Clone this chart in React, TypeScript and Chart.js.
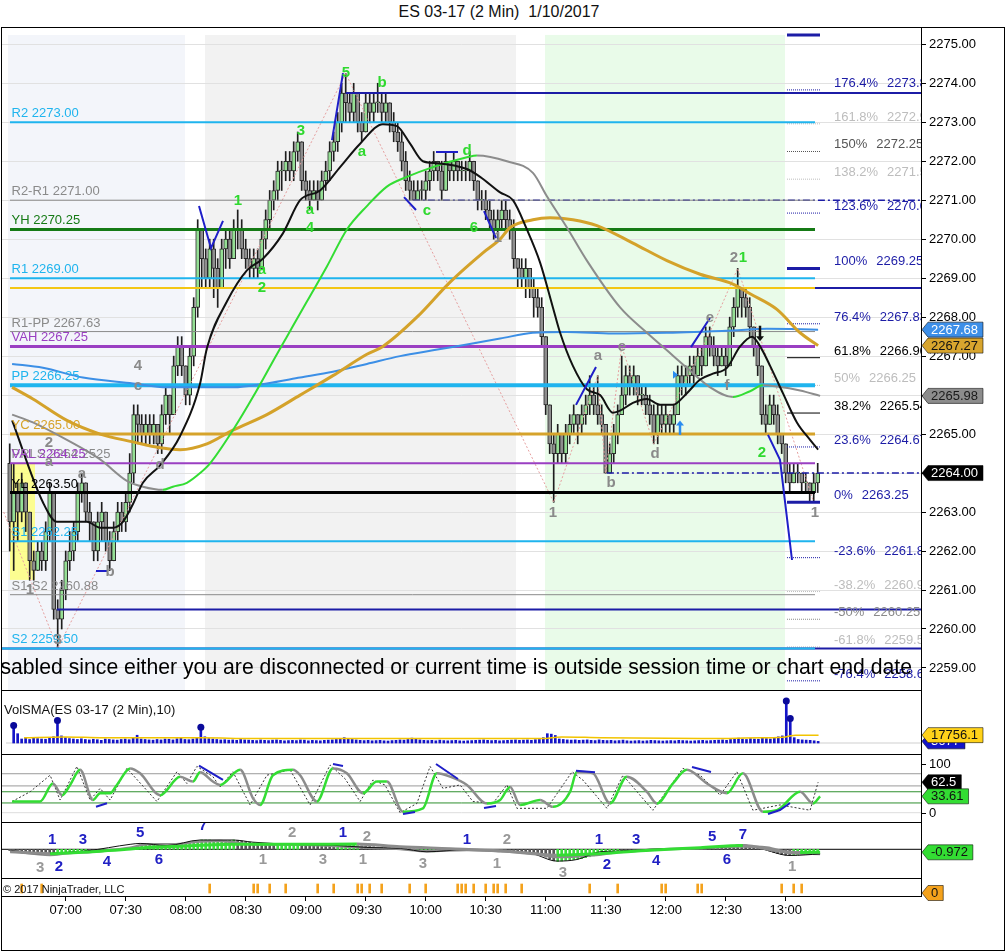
import React, { useEffect, useRef } from "react";
import { Chart, registerables } from "chart.js";

Chart.register(...registerables);

const FONT = "'Liberation Sans', Arial, Helvetica, sans-serif";

/* ---------------- time axis (minutes after midnight) ---------------- */
const firstBarMinute = 392; // 06:32
const barMinutes = 2;
const axisStartMinute = 388.15;
const axisEndMinute = 847.65;
const timeTickMinutes = [420, 450, 480, 510, 540, 570, 600, 630, 660, 690, 720, 750, 780];

/* ---------------- candles ---------------- */
const firstOpen = 2264.25;
const closes = [
  2262.75, 2263.5, 2263.0, 2263.75, 2263.0, 2261.75, 2261.5, 2262.0, 2261.75, 2262.5,
  2263.5, 2260.5, 2260.25, 2261.0, 2261.75, 2262.0, 2262.5, 2263.5, 2263.75, 2263.0,
  2262.75, 2262.0, 2262.75, 2263.0, 2262.25, 2261.75, 2262.5, 2263.0, 2262.75, 2263.25,
  2264.0, 2265.5, 2265.25, 2265.0, 2265.25, 2265.0, 2265.25, 2264.75, 2265.5, 2266.0,
  2265.5, 2266.75, 2267.25, 2266.75, 2266.0, 2267.0, 2268.25, 2270.25, 2269.5, 2269.0,
  2269.75, 2269.25, 2268.75, 2269.75, 2270.0, 2269.5, 2270.25, 2270.25, 2269.75, 2269.5,
  2269.25, 2269.5, 2269.25, 2270.0, 2270.5, 2271.0, 2271.25, 2271.75, 2271.75, 2272.0,
  2271.75, 2272.25, 2272.5, 2271.5, 2271.25, 2271.0, 2271.25, 2271.0, 2271.5, 2271.75,
  2272.25, 2272.5, 2273.0, 2273.75, 2273.5, 2273.25, 2273.75, 2273.0, 2272.75, 2273.5,
  2273.25, 2273.5, 2273.5, 2273.25, 2273.5, 2273.0, 2272.75, 2272.5, 2272.0, 2271.5,
  2271.25, 2271.0, 2271.25, 2271.25, 2271.5, 2271.75, 2272.0, 2271.75, 2271.25, 2272.0,
  2271.75, 2272.0, 2271.75, 2271.75, 2271.75, 2272.0, 2271.5, 2271.0, 2271.0, 2270.75,
  2270.5, 2270.25, 2270.5, 2270.75, 2270.5, 2270.25, 2269.5, 2269.25, 2269.0, 2269.25,
  2268.75, 2268.5, 2268.25, 2267.5, 2265.75, 2264.75, 2264.5, 2265.0, 2264.5, 2265.0,
  2265.25, 2265.5, 2265.25, 2265.5, 2265.75, 2266.0, 2265.75, 2265.5, 2265.25, 2264.0,
  2264.5, 2265.0, 2265.5, 2266.0, 2266.5, 2266.25, 2266.5, 2266.0, 2266.0, 2265.75,
  2265.5, 2265.0, 2265.5, 2265.25, 2265.5, 2265.25, 2265.5, 2266.5, 2266.25, 2266.5,
  2266.75, 2266.5, 2267.0, 2266.75, 2267.5, 2267.25, 2267.0, 2266.75, 2267.0, 2266.75,
  2267.75, 2268.25, 2268.75, 2268.5, 2268.25, 2267.75, 2267.25, 2266.75, 2265.5, 2265.25,
  2265.75, 2265.5, 2265.0, 2264.75, 2264.0, 2263.75, 2264.0, 2264.0, 2263.75, 2263.75,
  2263.5, 2263.75, 2264.0,
];
const highs = [
  2264.75, 2264.25, 2263.75, 2264.0, 2263.75, 2263.0, 2262.0, 2262.25, 2262.25, 2262.75,
  2263.75, 2263.5, 2260.75, 2261.25, 2262.0, 2262.5, 2262.75, 2263.75, 2264.0, 2263.75,
  2263.25, 2262.75, 2263.0, 2263.25, 2263.0, 2262.5, 2262.75, 2263.25, 2263.25, 2263.5,
  2264.5, 2265.75, 2265.75, 2265.5, 2265.5, 2265.5, 2265.5, 2265.25, 2265.75, 2266.25,
  2266.0, 2267.0, 2267.5, 2267.5, 2266.75, 2267.25, 2268.5, 2270.5, 2270.25, 2269.75,
  2270.0, 2270.0, 2269.5, 2270.0, 2270.25, 2270.25, 2270.5, 2270.75, 2270.5, 2270.0,
  2269.75, 2269.75, 2269.75, 2270.25, 2270.75, 2271.25, 2271.5, 2272.0, 2272.0, 2272.25,
  2272.25, 2272.5, 2272.75, 2272.5, 2271.75, 2271.5, 2271.5, 2271.5, 2271.75, 2272.0,
  2272.5, 2272.75, 2273.25, 2274.0, 2274.25, 2273.75, 2274.0, 2273.75, 2273.25, 2273.75,
  2273.75, 2273.75, 2274.0, 2273.75, 2273.75, 2273.5, 2273.25, 2273.0, 2272.75, 2272.25,
  2271.75, 2271.5, 2271.5, 2271.5, 2271.75, 2272.0, 2272.25, 2272.0, 2272.0, 2272.25,
  2272.0, 2272.25, 2272.0, 2272.0, 2272.0, 2272.25, 2272.0, 2271.5, 2271.25, 2271.25,
  2271.0, 2270.75, 2270.75, 2271.0, 2271.0, 2270.75, 2270.5, 2269.5, 2269.5, 2269.5,
  2269.25, 2269.0, 2268.75, 2268.5, 2267.5, 2265.75, 2265.0, 2265.25, 2265.0, 2265.25,
  2265.5, 2265.75, 2265.5, 2265.75, 2266.0, 2266.5, 2266.25, 2266.5, 2265.75, 2265.25,
  2264.75, 2265.25, 2265.75, 2267.0, 2266.75, 2266.75, 2266.75, 2266.5, 2266.25, 2266.25,
  2266.0, 2265.75, 2265.75, 2265.75, 2265.75, 2265.5, 2265.75, 2266.75, 2266.75, 2266.75,
  2267.0, 2267.0, 2267.25, 2267.25, 2267.75, 2267.75, 2267.5, 2267.25, 2267.25, 2267.25,
  2268.0, 2268.5, 2269.25, 2268.75, 2268.75, 2268.5, 2267.75, 2267.25, 2266.75, 2265.75,
  2266.0, 2266.0, 2265.75, 2265.0, 2264.75, 2264.25, 2264.25, 2264.25, 2264.0, 2264.0,
  2263.75, 2264.0, 2264.25,
];
const lows = [
  2262.0, 2261.5, 2262.25, 2262.75, 2262.5, 2261.25, 2261.25, 2261.5, 2261.5, 2261.5,
  2262.25, 2260.25, 2259.5, 2260.0, 2260.75, 2261.5, 2261.75, 2262.25, 2263.25, 2262.75,
  2262.25, 2261.75, 2261.75, 2262.25, 2262.0, 2261.5, 2261.75, 2262.25, 2262.5, 2262.5,
  2263.0, 2263.75, 2264.75, 2264.75, 2264.75, 2264.75, 2264.75, 2264.5, 2264.5, 2265.25,
  2265.0, 2265.5, 2266.5, 2266.5, 2265.75, 2265.75, 2266.75, 2268.0, 2268.75, 2268.75,
  2268.75, 2268.5, 2268.25, 2268.75, 2269.25, 2269.25, 2269.5, 2269.75, 2269.5, 2269.25,
  2269.0, 2269.0, 2269.0, 2269.25, 2269.75, 2270.25, 2270.75, 2271.0, 2271.25, 2271.5,
  2271.5, 2271.5, 2272.0, 2271.25, 2271.0, 2270.75, 2271.0, 2270.75, 2271.0, 2271.25,
  2271.5, 2272.0, 2272.25, 2272.75, 2273.0, 2273.0, 2273.0, 2272.75, 2272.5, 2272.75,
  2273.0, 2273.0, 2273.25, 2273.0, 2273.0, 2272.75, 2272.5, 2272.25, 2271.75, 2271.25,
  2271.0, 2271.0, 2271.0, 2271.0, 2271.0, 2271.25, 2271.5, 2271.5, 2271.0, 2271.25,
  2271.5, 2271.5, 2271.5, 2271.5, 2271.5, 2271.5, 2271.25, 2270.75, 2270.75, 2270.5,
  2270.25, 2270.0, 2270.0, 2270.25, 2270.25, 2270.0, 2269.25, 2268.75, 2268.75, 2268.5,
  2268.5, 2268.0, 2268.0, 2267.25, 2265.5, 2264.5, 2263.25, 2264.25, 2264.25, 2264.25,
  2264.75, 2265.0, 2264.75, 2265.0, 2265.25, 2265.5, 2265.5, 2265.25, 2265.0, 2264.0,
  2264.0, 2264.25, 2264.75, 2265.5, 2265.75, 2266.0, 2266.0, 2265.75, 2265.75, 2265.5,
  2265.25, 2264.75, 2264.75, 2265.0, 2265.0, 2265.0, 2265.0, 2265.5, 2266.0, 2266.0,
  2266.25, 2266.25, 2266.5, 2266.5, 2266.75, 2267.0, 2266.75, 2266.5, 2266.75, 2266.5,
  2266.75, 2267.5, 2268.0, 2268.0, 2268.0, 2267.5, 2267.0, 2266.5, 2265.25, 2265.0,
  2265.25, 2265.25, 2264.75, 2264.5, 2263.75, 2263.5, 2263.75, 2263.75, 2263.5, 2263.5,
  2263.25, 2263.25, 2263.5,
];

/* ---------------- moving averages (read at sample times) ---------------- */
const fastMaTimes = [393.2, 408.6, 415.6, 425.6, 430.6, 437.2, 443.6, 448.6, 453.6, 458.6, 467.2, 477.2, 487.2, 490.6, 500.6, 510.6, 518.6, 528.6, 537.2, 547.2, 557.2, 567.2, 578.6, 585.6, 592.2, 598.6, 605.6, 620.6, 627.2, 637.2, 643.6, 650.6, 657.2, 663.6, 667.2, 673.6, 680.6, 687.2, 693.6, 697.2, 703.6, 710.6, 717.2, 723.6, 730.6, 737.2, 743.6, 750.6, 757.2, 763.2, 767.2, 772.2, 778.6, 785.6, 792.2, 796.2];
const fastMaValues = [2265.35, 2263.25, 2262.75, 2262.75, 2262.75, 2262.6, 2262.6, 2262.75, 2263.2, 2263.75, 2264.2, 2264.95, 2266.3, 2267.2, 2268.4, 2269.2, 2269.5, 2270.15, 2271.0, 2271.25, 2271.85, 2272.45, 2272.95, 2272.9, 2272.45, 2272.0, 2271.95, 2271.8, 2271.6, 2271.2, 2271.0, 2270.25, 2269.4, 2268.25, 2267.6, 2266.75, 2266.15, 2266.0, 2265.55, 2265.6, 2265.8, 2265.9, 2265.75, 2265.75, 2266.05, 2266.4, 2266.55, 2266.7, 2267.25, 2267.5, 2267.25, 2266.75, 2266.05, 2265.3, 2264.85, 2264.6];
const swingMaTimes = [393.2, 403.6, 420.6, 437.2, 450.6, 458.6, 468.6, 473.6, 480.6, 487.2, 492.2, 503.6, 513.6, 525.6, 530.6, 540.6, 550.6, 560.6, 570.6, 580.6, 590.6, 603.6, 620.6, 625.6, 640.6, 653.6, 660.6, 670.6, 680.6, 697.2, 710.6, 720.6, 730.6, 742.2, 753.6, 762.2, 768.6, 775.6, 787.2, 797.2];
const swingMaValues = [2265.5, 2265.3, 2264.85, 2264.35, 2263.8, 2263.65, 2263.57, 2263.65, 2263.75, 2264.0, 2264.25, 2265.1, 2265.95, 2267.05, 2267.5, 2268.4, 2269.3, 2270.25, 2270.85, 2271.35, 2271.6, 2271.85, 2272.1, 2272.15, 2272.0, 2271.7, 2271.1, 2270.3, 2269.45, 2268.25, 2267.6, 2267.15, 2266.7, 2266.2, 2265.95, 2266.1, 2266.25, 2266.22, 2266.12, 2265.98];
const goldMaTimes = [393.2, 403.6, 420.6, 437.2, 453.6, 467.2, 477.2, 490.6, 503.6, 520.6, 537.2, 553.6, 570.6, 578.6, 595.6, 612.2, 628.6, 637.2, 642.2, 653.6, 662.2, 673.6, 685.6, 703.6, 720.6, 737.2, 753.6, 762.2, 775.6, 787.2, 796.2];
const goldMaValues = [2266.2, 2265.9, 2265.35, 2265.0, 2264.8, 2264.65, 2264.6, 2264.75, 2265.1, 2265.5, 2266.0, 2266.5, 2267.05, 2267.25, 2268.0, 2268.9, 2269.65, 2270.0, 2270.3, 2270.5, 2270.55, 2270.5, 2270.35, 2269.9, 2269.45, 2269.1, 2268.85, 2268.6, 2268.2, 2267.6, 2267.27];
const vwapTimes = [393.2, 408.6, 428.6, 453.6, 470.6, 487.2, 503.6, 520.6, 537.2, 553.6, 570.6, 587.2, 603.6, 620.6, 637.2, 653.6, 670.6, 693.6, 720.6, 753.6, 770.6, 796.2];
const vwapValues = [2266.8, 2266.7, 2266.45, 2266.3, 2266.2, 2266.2, 2266.2, 2266.3, 2266.45, 2266.6, 2266.8, 2267.0, 2267.15, 2267.3, 2267.45, 2267.6, 2267.62, 2267.58, 2267.6, 2267.66, 2267.7, 2267.68];
const zigzagTimes = [389, 416, 560, 664, 686, 690, 698, 714, 742, 756, 794];
const zigzagValues = [2263.0, 2259.5, 2274.25, 2263.25, 2266.5, 2264.0, 2267.25, 2264.75, 2267.6, 2269.25, 2263.25];

/* ---------------- pivot levels ---------------- */
const pivotNames = ["R2", "R2-R1", "YH", "R1", "", "R1-PP", "VAH", "PP", "YC", "VAL", "YL", "S1", "S1-S2", "S2"];
const pivotValues = [2273.0, 2271.0, 2270.25, 2269.0, 2268.75, 2267.63, 2267.25, 2266.25, 2265.0, 2264.25, 2263.5, 2262.25, 2260.88, 2259.5];
const pivotColors = ["#1fb4ee", "#8a8a8a", "#157a15", "#1fb4ee", "#f3c614", "#8a8a8a", "#9a3fc2", "#1fb4ee", "#d6a32b", "#9a3fc2", "#000000", "#1fb4ee", "#8a8a8a", "#1fb4ee"];
const pivotWidths = [2, 1, 3, 2, 2, 1, 3, 4, 3, 2, 3, 2, 1, 2];
const pivotStart = 392.15;
const pivotEnd = 794.65;

/* ---------------- fibonacci levels ---------------- */
const fibPercents = ["176.4%", "161.8%", "150%", "138.2%", "123.6%", "100%", "76.4%", "61.8%", "50%", "38.2%", "23.6%", "0%", "-23.6%", "-38.2%", "-50%", "-61.8%", "-76.4%"];
const fibValues = [2273.83, 2272.96, 2272.25, 2271.54, 2270.67, 2269.25, 2267.83, 2266.96, 2266.25, 2265.54, 2264.67, 2263.25, 2261.83, 2260.96, 2260.25, 2259.54, 2258.67];
const fibColors = ["#1c1ca6", "#bdbdbd", "#555555", "#bdbdbd", "#1c1ca6", "#1c1ca6", "#1c1ca6", "#000000", "#bdbdbd", "#000000", "#1c1ca6", "#1c1ca6", "#1c1ca6", "#bdbdbd", "#8a8a8a", "#bdbdbd", "#1c1ca6"];
const fibStart = 780.65;
const fibEnd = 797.15;

/* ---------------- wave labels ---------------- */
const waveTexts = ["5", "b", "3", "a", "1", "a", "4", "a", "2", "d", "c", "6", "1", "2",
  "2", "4", "c", "2", "a", "a", "d", "b", "1", "3", "1", "a", "e", "f", "d", "b", "1", "1", "e"];
const waveTimes = [560.15, 578.15, 537.65, 568.15, 506.15, 542.15, 542.15, 518.15, 518.15, 620.65, 600.65, 624.15, 758.65, 768.15,
  754.15, 456.15, 456.15, 411.65, 411.65, 428.15, 467.15, 442.15, 402.15, 416.15, 636.15, 686.15, 698.15, 750.65, 714.65, 692.65, 663.65, 794.65, 742.15];
const wavePrices = [2274.26, 2274.0, 2272.77, 2272.24, 2270.98, 2270.75, 2270.29, 2269.21, 2268.75, 2272.26, 2270.72, 2270.29, 2269.51, 2264.51,
  2269.51, 2266.75, 2266.23, 2264.77, 2264.28, 2263.97, 2264.2, 2261.46, 2261.0, 2259.72, 2270.03, 2267.0, 2267.23, 2266.25, 2264.49, 2263.75, 2262.98, 2262.98, 2267.98];
const waveIsGreen = [1, 1, 1, 1, 1, 1, 1, 1, 1, 1, 1, 1, 1, 1, 0, 0, 0, 0, 0, 0, 0, 0, 0, 0, 0, 0, 0, 0, 0, 0, 0, 0, 0];

/* ---------------- trend segments (navy) ---------------- */
const trendSegments = [
  [[486.65, 2270.85], [492.65, 2269.77], [498.65, 2270.47]],
  [[553.15, 2272.54], [558.65, 2274.26]],
  [[605.15, 2272.24], [616.15, 2272.24]],
  [[589.15, 2271.08], [595.15, 2270.75]],
  [[629.15, 2270.72], [635.15, 2270.03]],
  [[435.15, 2261.49], [440.65, 2261.49]],
  [[675.15, 2265.75], [685.15, 2266.72]],
  [[732.65, 2267.23], [742.15, 2267.98]],
  [[771.15, 2264.98], [777.15, 2264.34], [783.15, 2261.77]],
];

/* ---------------- volume ---------------- */
const volumes = [
  39500, 21000, 9000, 11000, 8000, 12000, 10000, 9000, 8500, 11000,
  14000, 51000, 16000, 12000, 10000, 9000, 8000, 9500, 8000, 7000,
  8500, 7500, 6000, 9000, 8000, 7000, 6500, 8000, 9000, 7500,
  12000, 17500, 9000, 8000, 7000, 6500, 8000, 7000, 9000, 8500,
  7000, 9500, 11000, 8000, 7500, 9000, 12000, 35500, 14000, 10000,
  9000, 8000, 7000, 7500, 6500, 7000, 6000, 8000, 7000, 6500,
  6000, 5500, 7000, 6000, 5500, 6500, 7000, 6000, 5000, 5500,
  6000, 5500, 7000, 6500, 5000, 6000, 5500, 5000, 6000, 6500,
  7000, 8000, 9000, 12000, 10000, 8000, 7000, 6000, 5500, 6000,
  5000, 5500, 6000, 5000, 4500, 5500, 6000, 7000, 6500, 8000,
  11000, 9000, 7000, 6000, 5500, 6000, 5000, 6500, 5500, 5000,
  5500, 6000, 5000, 4500, 5000, 5500, 6000, 6500, 7000, 6000,
  5500, 6000, 5000, 5500, 6000, 6500, 7000, 6000, 6500, 7000,
  6000, 7500, 8000, 12000, 21000, 20000, 17000, 9000, 8000, 7000,
  6500, 7000, 6000, 6500, 7000, 6000, 5500, 7000, 6000, 5500,
  6000, 5000, 5500, 6500, 5000, 4500, 5000, 5500, 4500, 5000,
  6000, 5500, 5000, 4500, 5000, 5500, 5000, 6000, 5500, 5000,
  4500, 5000, 5500, 6000, 5000, 5500, 6000, 6500, 7000, 6000,
  8000, 9500, 11000, 9000, 8000, 10000, 9000, 8500, 12000, 10000,
  9000, 11000, 14000, 16000, 94700, 55200, 12000, 8000, 7000, 6500,
  6000, 5000, 3677,
];
const volumeSpikeBars = [0, 11, 47, 194, 195];
const volSmaTimes = [397.2, 417.2, 437.2, 462.2, 487.2, 512.2, 562.2, 612.2, 657.2, 667.2, 687.2, 737.2, 767.2, 779.6, 784.6, 796.2];
const volSmaValues = [11800, 13800, 11800, 11800, 11800, 9900, 9900, 9900, 9900, 13800, 11800, 9900, 11800, 13800, 17756, 17756.1];

/* ---------------- stochastics ---------------- */
const stochTimes = [393.2, 407.2, 413.6, 418.2, 422.2, 427.2, 433.6, 437.2, 442.2, 445.6, 452.2, 457.2, 467.2, 477.2, 483.6, 487.2, 493.6, 497.2, 507.2, 513.6, 517.2, 523.6, 533.6, 537.2, 545.6, 553.6, 560.6, 568.6, 575.6, 580.6, 588.6, 598.6, 605.6, 612.2, 620.6, 630.6, 637.2, 642.2, 647.2, 657.2, 663.6, 672.2, 675.6, 683.6, 692.2, 700.6, 710.6, 715.6, 723.6, 730.6, 740.6, 750.6, 758.6, 768.6, 775.6, 787.2, 793.6, 797.2];
const stochValues = [23, 23, 60, 36, 57, 88, 26, 40, 40, 57, 91, 81, 36, 74, 64, 83, 64, 57, 88, 30, 16, 77, 88, 77, 23, 91, 81, 40, 64, 64, 2, 9, 81, 74, 57, 19, 26, 53, 16, 26, 12, 43, 84, 81, 19, 74, 43, 19, 60, 88, 60, 40, 81, 2, 5, 43, 19, 33.61];
const stochKTimes = [393.2, 402.2, 412.2, 417.2, 425.6, 432.2, 437.2, 442.2, 450.6, 465.6, 475.6, 480.6, 485.6, 493.6, 497.2, 503.6, 512.2, 520.6, 532.2, 542.2, 552.2, 559.6, 567.2, 573.6, 579.6, 587.2, 595.6, 602.2, 608.6, 617.2, 623.6, 633.6, 640.6, 645.6, 660.6, 673.2, 678.6, 690.6, 698.6, 713.6, 728.6, 737.2, 747.2, 755.6, 763.6, 777.2, 792.2, 796.2];
const stochKValues = [23, 43, 77, 26, 95, 26, 50, 26, 91, 23, 84, 60, 95, 74, 53, 84, 16, 77, 88, 16, 98, 70, 23, 67, 57, 0, 19, 95, 50, 57, 23, 19, 57, 9, 9, 84, 67, 9, 77, 5, 91, 77, 36, 84, 5, 16, 5, 62.5];
const stochLevels = [80, 55, 43, 20, 0];
const stochSegments = [
  [[435.15, 12.3], [440.65, 19.3]],
  [[486.65, 96.5], [498.65, 67.2]],
  [[553.65, 100], [558.65, 95.9]],
  [[588.65, -2.7], [594.65, 1.4]],
  [[605.15, 100], [616.15, 69.2]],
  [[629.15, 9.6], [635.15, 13.8]],
  [[675.15, 86.2], [684.65, 83]],
  [[733.15, 93.8], [742.65, 83.6]],
  [[771.15, -2.7], [777.15, 5.5], [782.15, 19.9]],
];

/* ---------------- MACD ---------------- */
const macdHist = [
  -0.4, -0.6, -0.8, -1.0, -1.2, -1.4, -1.5, -1.6, -1.7, -1.7,
  -1.6, -1.8, -1.7, -1.5, -1.3, -1.2, -1.0, -0.9, -0.8, -0.7,
  -0.6, -0.6, -0.5, -0.5, -0.4, -0.3, -0.3, -0.2, -0.1, 0.0,
  0.3, 0.8, 1.2, 1.4, 1.6, 1.7, 1.8, 1.6, 1.4, 1.3,
  1.3, 1.4, 1.6, 1.8, 1.9, 2.0, 2.3, 2.7, 3.0, 3.0,
  3.0, 2.9, 2.9, 2.8, 2.8, 2.9, 3.0, 2.9, 2.7, 2.5,
  2.3, 2.1, 2.0, 1.9, 1.8, 1.8, 1.7, 1.7, 1.6, 1.6,
  1.5, 1.5, 1.5, 1.4, 1.3, 1.2, 1.2, 1.2, 1.2, 1.3,
  1.3, 1.4, 1.5, 1.6, 1.5, 1.4, 1.3, 1.2, 1.1, 1.0,
  0.9, 0.8, 0.7, 0.6, 0.6, 0.5, 0.5, 0.4, 0.3, 0.3,
  0.2, 0.1, 0.0, -0.2, -0.4, -0.6, -0.8, -0.7, -0.6, -0.4,
  -0.3, -0.2, -0.1, -0.1, -0.2, -0.2, -0.3, -0.3, -0.4, -0.4,
  -0.5, -0.5, -0.5, -0.6, -0.6, -0.7, -0.8, -0.9, -1.0, -1.1,
  -1.2, -1.4, -1.6, -1.9, -2.5, -3.2, -3.7, -3.9, -3.8, -3.6,
  -3.4, -3.3, -3.2, -3.0, -2.7, -2.4, -2.1, -1.8, -1.5, -1.2,
  -1.0, -0.9, -0.8, -0.7, -0.6, -0.5, -0.4, -0.3, -0.3, -0.2,
  -0.2, -0.1, -0.1, 0.0, 0.0, 0.1, 0.1, 0.2, 0.2, 0.3,
  0.3, 0.4, 0.4, 0.5, 0.6, 0.6, 0.7, 0.8, 0.9, 1.0,
  1.1, 1.2, 1.4, 1.4, 1.3, 1.1, 0.8, 0.5, 0.2, -0.2,
  -0.6, -1.0, -1.4, -1.7, -1.9, -2.0, -1.9, -1.8, -1.6, -1.5,
  -1.3, -1.1, -1.0,
];
const macdGreenRanges = [[12, 19], [30, 56], [67, 72], [82, 87], [102, 106], [137, 152], [196, 202]];
const macdTimes = [392.2, 407.2, 414.6, 430.6, 452.2, 457.2, 470.6, 487.2, 503.6, 513.6, 537.2, 553.6, 570.6, 587.2, 600.6, 620.6, 637.2, 653.6, 665.6, 675.6, 687.2, 695.6, 712.2, 728.6, 745.6, 758.6, 767.2, 782.2, 797.2];
const macdValues = [-0.3, -1.5, -1.2, -0.5, 1.6, 1.9, 1.2, 3.0, 3.0, 2.3, 1.5, 1.3, 0.6, 0.3, -0.8, -0.1, -0.5, -1.5, -3.8, -3.3, -0.8, -0.6, 0, 0.2, 0.6, 1.4, 0.3, -2.0, -1.5];
const macdAvgTimes = [392.2, 412.2, 420.6, 437.2, 452.2, 460.6, 473.6, 487.2, 497.2, 513.6, 537.2, 553.6, 570.6, 587.2, 600.6, 620.6, 637.2, 653.6, 665.6, 682.2, 697.2, 717.2, 737.2, 757.2, 770.6, 782.2, 797.2];
const macdAvgValues = [-0.5, -1.8, -1.3, -0.6, 0.5, 1.6, 1.6, 2.5, 2.7, 1.6, 1.5, 1.1, 0.5, 0.1, -0.6, -0.2, -0.6, -1.3, -2.5, -2.0, -0.9, 0, 0.3, 0.9, 0.6, -1.2, -1.5];
const macdSigTimes = [392.2, 412.2, 417.2, 437.2, 450.6, 460.6, 480.6, 490.6, 503.6, 537.2, 565.6, 587.2, 612.2, 637.2, 665.6, 687.2, 712.2, 737.2, 758.6, 777.2, 787.2, 797.2];
const macdSigValues = [-0.8, -1.4, -1.3, -0.6, 0, 0.6, 1.1, 1.4, 1.6, 1.6, 1.7, 0.8, 0.2, -0.5, -1.9, -1.4, -0.3, 0.5, 1.2, -0.6, -1.0, -0.97];
const macdWaveTexts = ["1", "3", "5", "7", "2", "1", "2", "1", "2", "1", "3", "5", "7", "3", "2", "4", "6", "1", "3", "1", "3", "1", "3", "2", "4", "6", "1"];
const macdWaveTimes = [413.2, 428.6, 457.2, 488.6, 533.2, 558.6, 570.6, 620.6, 640.6, 686.6, 705.2, 743.2, 758.6, 407.2, 416.6, 440.6, 466.6, 518.6, 548.6, 568.6, 598.6, 635.6, 668.6, 690.6, 715.2, 750.6, 783.2];
const macdWaveValues = [3.0, 3.0, 5.3, 7.4, 5.3, 5.3, 4.0, 3.0, 3.0, 3.0, 3.0, 4.0, 4.6, -6.0, -5.7, -4.1, -3.5, -3.5, -3.5, -3.5, -4.7, -4.7, -7.6, -5.0, -3.8, -3.5, -5.7];
const macdWaveIsBlue = [1, 1, 1, 1, 0, 1, 0, 1, 0, 1, 1, 1, 1, 0, 1, 1, 1, 0, 0, 0, 0, 0, 0, 1, 1, 1, 0];

/* ---------------- signal marks (bottom strip) ---------------- */
const signalBars = [3, 8, 50, 61, 62, 65, 69, 77, 81, 87, 88, 90, 93, 100, 104, 112, 113, 114, 116, 119, 121, 122, 124, 128, 145, 152, 163, 164, 172, 173, 193, 196, 198];

/* ---------------- colors ---------------- */
const UP = "#95df95";
const DOWN = "#8e8e8e";
const NAVY = "#1c1ca6";
const GREEN_LINE = "#33dd33";
const GREY_LINE = "#8c8c8c";
const GREEN_TEXT = "#2fd92f";
const GREY_TEXT = "#8a8a8a";

/* ---------------- derived helpers ---------------- */
const barTimes = closes.map((_, i) => firstBarMinute + barMinutes * i);
const opens = closes.map((_, i) => (i === 0 ? firstOpen : closes[i - 1]));

const pts = (ts: number[], vs: number[]) => ts.map((t, i) => ({ x: t, y: vs[i] }));
const polyData = (segs: number[][][]) => {
  const out: any[] = [];
  segs.forEach((s) => {
    s.forEach(([t, v]) => out.push({ x: t, y: v }));
    out.push({ x: s[s.length - 1][0], y: null });
  });
  return out;
};
const hLine = (v: number, t0: number, t1: number, color: string, width: number, dash: number[] = [], order = 30) => ({
  type: "line",
  data: [{ x: t0, y: v }, { x: t1, y: v }],
  borderColor: color,
  borderWidth: width,
  borderDash: dash,
  pointRadius: 0,
  tension: 0,
  order,
});
const smoothLine = (ts: number[], vs: number[], color: string, width: number, order: number, extra: any = {}) => ({
  type: "line",
  data: pts(ts, vs),
  borderColor: color,
  borderWidth: width,
  pointRadius: 0,
  cubicInterpolationMode: "monotone",
  order,
  ...extra,
});
const slopeColored = { borderColor: (c: any) => (c.p1.parsed.y >= c.p0.parsed.y ? GREEN_LINE : GREY_LINE) };
const fmtTime = (m: number) => {
  const h = Math.floor(m / 60);
  const mm = Math.round(m - h * 60);
  return `${String(h).padStart(2, "0")}:${String(mm).padStart(2, "0")}`;
};

function drawTag(ctx: CanvasRenderingContext2D, tipX: number, cy: number, text: string, bg: string, fg: string) {
  ctx.save();
  ctx.font = `13px ${FONT}`;
  const w = ctx.measureText(text).width + 8;
  const h = 15;
  ctx.beginPath();
  ctx.moveTo(tipX, cy);
  ctx.lineTo(tipX + 6, cy - h / 2);
  ctx.lineTo(tipX + 6 + w, cy - h / 2);
  ctx.lineTo(tipX + 6 + w, cy + h / 2);
  ctx.lineTo(tipX + 6, cy + h / 2);
  ctx.closePath();
  ctx.fillStyle = bg;
  ctx.fill();
  ctx.lineWidth = 1;
  ctx.strokeStyle = "rgba(0,0,0,0.55)";
  ctx.stroke();
  ctx.fillStyle = fg;
  ctx.textAlign = "left";
  ctx.textBaseline = "middle";
  ctx.fillText(text, tipX + 9, cy + 0.5);
  ctx.restore();
}

function drawText(ctx: CanvasRenderingContext2D, s: string, x: number, y: number, color: string, font: string, align: CanvasTextAlign = "left", baseline: CanvasTextBaseline = "alphabetic") {
  ctx.fillStyle = color;
  ctx.font = font;
  ctx.textAlign = align;
  ctx.textBaseline = baseline;
  ctx.fillText(s, x, y);
}

function drawArrow(ctx: CanvasRenderingContext2D, x: number, yTail: number, yHead: number, color: string) {
  const dir = yHead < yTail ? -1 : 1;
  ctx.save();
  ctx.strokeStyle = color;
  ctx.fillStyle = color;
  ctx.lineWidth = 2.5;
  ctx.beginPath();
  ctx.moveTo(x, yTail);
  ctx.lineTo(x, yHead - dir * 4);
  ctx.stroke();
  ctx.beginPath();
  ctx.moveTo(x - 4, yHead - dir * 5);
  ctx.lineTo(x + 4, yHead - dir * 5);
  ctx.lineTo(x, yHead);
  ctx.closePath();
  ctx.fill();
  ctx.restore();
}

const baseOptions = (yMin: number, yMax: number) => ({
  responsive: false,
  animation: false,
  events: [],
  layout: { padding: { left: 0, right: 83, top: 0, bottom: 0 } },
  plugins: { legend: { display: false }, tooltip: { enabled: false } },
  scales: {
    x: { type: "linear", min: axisStartMinute, max: axisEndMinute, display: false, offset: false, grid: { offset: false } },
    y: { type: "linear", min: yMin, max: yMax, display: false, beginAtZero: false },
  },
});

/* ================= PRICE PANEL ================= */
function priceConfig(): any {
  const priceTicks = [2259, 2260, 2261, 2262, 2263, 2264, 2265, 2266, 2267, 2268, 2269, 2270, 2271, 2272, 2273, 2274, 2275];
  const datasets: any[] = [];
  datasets.push({
    type: "bar",
    data: barTimes.map((t, i) => ({ x: t, y: [Math.min(lows[i], opens[i], closes[i]), Math.max(highs[i], opens[i], closes[i])] })),
    backgroundColor: "#1e1e1e",
    barThickness: 1,
    grouped: false,
    order: 60,
  });
  datasets.push({
    type: "bar",
    data: barTimes.map((t, i) => ({ x: t, y: [opens[i], closes[i]] })),
    backgroundColor: barTimes.map((_, i) => (closes[i] >= opens[i] ? UP : DOWN)),
    borderColor: "#2a2a2a",
    borderWidth: 1,
    borderSkipped: false,
    barThickness: 4,
    minBarLength: 1,
    grouped: false,
    order: 59,
  });
  datasets.push(hLine(2259.5, axisStartMinute, axisEndMinute, NAVY, 2, [], 32));
  datasets.push(hLine(2260.5, 415.6, axisEndMinute, NAVY, 2, [], 32));
  datasets.push(hLine(2273.75, 560, axisEndMinute, NAVY, 2, [], 32));
  datasets.push(hLine(2268.75, pivotEnd, axisEndMinute, NAVY, 2, [], 32));
  datasets.push(hLine(2271.0, 593.6, axisEndMinute, NAVY, 1.5, [7, 3, 2, 3], 31));
  datasets.push(hLine(2264.0, 690.6, axisEndMinute, NAVY, 1.5, [7, 3, 2, 3], 31));
  datasets.push(hLine(2275.24, fibStart, fibEnd, NAVY, 3, [], 31));
  datasets.push(hLine(2269.25, fibStart, fibEnd, NAVY, 3, [], 31));
  datasets.push(hLine(2263.25, fibStart, fibEnd, NAVY, 3, [], 31));
  fibValues.forEach((v, i) => {
    const solid = fibColors[i] === "#000000";
    datasets.push(hLine(v, fibStart, fibEnd, fibColors[i], 1, solid ? [] : [1, 1], 33));
  });
  pivotValues.forEach((v, i) => {
    datasets.push(hLine(v, i === pivotValues.length - 1 ? axisStartMinute : pivotStart, pivotEnd, pivotColors[i], pivotWidths[i], [], 30));
  });
  datasets.push({
    type: "line",
    data: pts(zigzagTimes, zigzagValues),
    borderColor: "#e6a0a0",
    borderWidth: 1,
    borderDash: [2, 2],
    pointRadius: 0,
    tension: 0,
    order: 40,
  });
  datasets.push(smoothLine(vwapTimes, vwapValues, "#3c8fe6", 2, 14));
  datasets.push(smoothLine(goldMaTimes, goldMaValues, "#d4a22a", 3, 13));
  datasets.push(smoothLine(swingMaTimes, swingMaValues, GREY_LINE, 2, 12, { segment: slopeColored }));
  datasets.push(smoothLine(fastMaTimes, fastMaValues, "#111111", 2, 11));
  datasets.push({
    type: "line",
    data: polyData(trendSegments),
    borderColor: "#1f1fc8",
    borderWidth: 2,
    pointRadius: 0,
    tension: 0,
    spanGaps: false,
    order: 5,
  });

  const pricePlugin = {
    id: "pricePanel",
    beforeDraw(chart: any) {
      const { ctx, chartArea: ca, scales } = chart;
      const x = scales.x, y = scales.y;
      const sessStart = [391.15, 489.65, 659.65];
      const sessEnd = [479.65, 645.15, 779.65];
      const sessColor = ["#f3f5fa", "#f2f2f2", "#e9fbe9"];
      ctx.save();
      const top = y.getPixelForValue(2275.24);
      sessStart.forEach((s, i) => {
        const x0 = x.getPixelForValue(s);
        const x1 = x.getPixelForValue(sessEnd[i]);
        ctx.fillStyle = sessColor[i];
        ctx.fillRect(x0, top, x1 - x0, ca.bottom - top);
      });
      ctx.restore();
    },
    beforeDatasetsDraw(chart: any) {
      const { ctx, scales } = chart;
      const x = scales.x, y = scales.y;
      const x0 = x.getPixelForValue(392.15), x1 = x.getPixelForValue(404.65);
      const y0 = y.getPixelForValue(2264.26), y1 = y.getPixelForValue(2261.26);
      ctx.save();
      ctx.fillStyle = "rgba(255,255,110,0.75)";
      ctx.fillRect(x0, y0, x1 - x0, y1 - y0);
      ctx.restore();
    },
    afterDatasetsDraw(chart: any) {
      const { ctx, chartArea: ca, scales } = chart;
      const x = scales.x, y = scales.y;
      ctx.save();
      const lx = x.getPixelForValue(pivotStart) + 1.5;
      pivotNames.forEach((n, i) => {
        if (!n) return;
        const py = y.getPixelForValue(pivotValues[i]) - 5;
        if (n === "VAL") {
          drawText(ctx, "PRLS 2264.2525", lx, py, "#8a8a8a", `13px ${FONT}`);
        }
        drawText(ctx, `${n} ${pivotValues[i].toFixed(2)}`, lx, py, pivotColors[i], `13px ${FONT}`);
      });
      ctx.save();
      ctx.beginPath();
      ctx.rect(ca.left, ca.top, ca.right - ca.left, ca.bottom - ca.top);
      ctx.clip();
      const fx = x.getPixelForValue(fibEnd) + 14;
      fibPercents.forEach((p, i) => {
        const fy = y.getPixelForValue(fibValues[i]) - 3;
        ctx.font = `13px ${FONT}`;
        const w = ctx.measureText(p).width;
        drawText(ctx, p, fx, fy, fibColors[i], `13px ${FONT}`);
        drawText(ctx, fibValues[i].toFixed(2), fx + w + 9, fy, fibColors[i], `13px ${FONT}`);
      });
      ctx.restore();
      waveTexts.forEach((t, i) => {
        drawText(ctx, t, x.getPixelForValue(waveTimes[i]), y.getPixelForValue(wavePrices[i]), waveIsGreen[i] ? GREEN_TEXT : GREY_TEXT, `bold 15px ${FONT}`, "center", "middle");
      });
      drawArrow(ctx, x.getPixelForValue(727.15), y.getPixelForValue(2264.98), y.getPixelForValue(2265.35), "#2a8cf0");
      drawArrow(ctx, x.getPixelForValue(767.15), y.getPixelForValue(2267.78), y.getPixelForValue(2267.38), "#111111");
      const tx = x.getPixelForValue(724.65), ty = y.getPixelForValue(2266.52);
      ctx.fillStyle = "#2a8cf0";
      ctx.beginPath();
      ctx.moveTo(tx - 2, ty - 4);
      ctx.lineTo(tx + 3, ty);
      ctx.lineTo(tx - 2, ty + 4);
      ctx.closePath();
      ctx.fill();
      ctx.restore();
    },
    afterDraw(chart: any) {
      const { ctx, chartArea: ca, scales } = chart;
      const y = scales.y;
      const tip = ca.right + 1;
      drawTag(ctx, tip, y.getPixelForValue(2267.68), "2267.68", "#3d8fe8", "#ffffff");
      drawTag(ctx, tip, y.getPixelForValue(2267.27), "2267.27", "#d8a52e", "#111111");
      drawTag(ctx, tip, y.getPixelForValue(2265.98), "2265.98", "#8c8c8c", "#1a1a1a");
      drawTag(ctx, tip, y.getPixelForValue(2264.0), "2264.00", "#000000", "#ffffff");
      ctx.save();
      ctx.beginPath();
      ctx.rect(ca.left, ca.top, ca.right - ca.left, ca.bottom - ca.top);
      ctx.clip();
      drawText(ctx, "Order entry is disabled since either you are disconnected or current time is outside session time or chart end date", 910, 646, "#000000", `21.2px ${FONT}`, "right");
      ctx.restore();
    },
  };

  const opts: any = baseOptions(2258.435, 2275.418);
  opts.layout.padding.right = 0;
  opts.scales.y = {
    type: "linear",
    position: "right",
    min: 2258.435,
    max: 2275.418,
    beginAtZero: false,
    afterBuildTicks: (s: any) => {
      s.ticks = priceTicks.map((v) => ({ value: v }));
    },
    afterFit: (s: any) => {
      s.width = 83;
      s.paddingTop = 0;
      s.paddingBottom = 0;
    },
    ticks: { callback: (v: any) => Number(v).toFixed(2), color: "#000", font: { family: FONT, size: 13 }, padding: 3, autoSkip: false },
    grid: { color: "#e1e1e1", tickColor: "#000", tickLength: 5, drawTicks: true },
    border: { color: "#000" },
  };
  return { type: "bar", data: { datasets }, options: opts, plugins: [pricePlugin] };
}

/* ================= VOLUME PANEL ================= */
function volumeConfig(): any {
  const datasets: any[] = [
    hLine(0, axisStartMinute, axisEndMinute, "#cfcfcf", 1, [], 40),
    {
      type: "bar",
      data: barTimes.map((t, i) => ({ x: t, y: volumes[i] })),
      backgroundColor: "#1414c8",
      barThickness: 2,
      grouped: false,
      order: 30,
    },
    smoothLine(volSmaTimes, volSmaValues, "#f2c400", 1.5, 20),
    {
      type: "line",
      data: volumeSpikeBars.map((i) => ({ x: barTimes[i], y: volumes[i] })),
      showLine: false,
      pointRadius: 3.5,
      pointBackgroundColor: "#0a0a9a",
      pointBorderWidth: 0,
      order: 10,
    },
  ];
  const plugin = {
    id: "volPanel",
    afterDraw(chart: any) {
      const { ctx, chartArea: ca, scales } = chart;
      const y = scales.y;
      drawText(ctx, "VolSMA(ES 03-17 (2 Min),10)", 2, 24, "#111", `13px ${FONT}`);
      drawTag(ctx, ca.right + 1, y.getPixelForValue(3677), "3677", "#1414c8", "#ffffff");
      drawTag(ctx, ca.right + 1, y.getPixelForValue(17756.1), "17756.1", "#ffd21a", "#111111");
    },
  };
  return { type: "bar", data: { datasets }, options: baseOptions(-15784, 110488), plugins: [plugin] };
}

/* ================= STOCHASTICS PANEL ================= */
function stochConfig(): any {
  const levelColors = ["#9a9a9a", "#9a9a9a", "#2f8f2f", "#2f8f2f", "#dddddd"];
  const datasets: any[] = stochLevels.map((v, i) => hLine(v, axisStartMinute, axisEndMinute, levelColors[i], 1, [], 40));
  datasets.push({
    type: "line",
    data: pts(stochKTimes, stochKValues),
    borderColor: "#333333",
    borderWidth: 1,
    borderDash: [2, 2],
    pointRadius: 0,
    tension: 0,
    order: 20,
  });
  datasets.push(smoothLine(stochTimes, stochValues, GREY_LINE, 2.5, 10, { segment: slopeColored }));
  datasets.push({
    type: "line",
    data: polyData(stochSegments),
    borderColor: "#1f1fc8",
    borderWidth: 2,
    pointRadius: 0,
    tension: 0,
    spanGaps: false,
    order: 5,
  });
  const plugin = {
    id: "stochPanel",
    afterDraw(chart: any) {
      const { ctx, chartArea: ca, scales } = chart;
      const y = scales.y;
      ctx.save();
      ctx.strokeStyle = "#000";
      ctx.lineWidth = 1;
      [100, 0].forEach((v) => {
        const py = Math.round(y.getPixelForValue(v)) + 0.5;
        ctx.beginPath();
        ctx.moveTo(ca.right, py);
        ctx.lineTo(ca.right + 5, py);
        ctx.stroke();
        drawText(ctx, String(v), ca.right + 8, py, "#000", `13px ${FONT}`, "left", "middle");
      });
      ctx.restore();
      drawTag(ctx, ca.right + 1, y.getPixelForValue(62.5), "62.5", "#000000", "#ffffff");
      drawTag(ctx, ca.right + 1, y.getPixelForValue(33.61), "33.61", "#33dd33", "#111111");
    },
  };
  return { type: "bar", data: { datasets }, options: baseOptions(-19.1, 120.53), plugins: [plugin] };
}

/* ================= MACD PANEL ================= */
function macdConfig(): any {
  const isGreen = (i: number) => macdGreenRanges.some(([a, b]) => i >= a && i <= b);
  const datasets: any[] = [
    hLine(0, axisStartMinute, axisEndMinute, "#000000", 1, [], 40),
    {
      type: "bar",
      data: barTimes.map((t, i) => ({ x: t, y: macdHist[i] })),
      backgroundColor: barTimes.map((_, i) => (isGreen(i) ? "#3bdc3b" : "#555555")),
      barThickness: 2,
      grouped: false,
      order: 35,
    },
    smoothLine(macdAvgTimes, macdAvgValues, GREY_LINE, 2.5, 20),
    smoothLine(macdTimes, macdValues, "#111111", 1, 15),
    smoothLine(macdSigTimes, macdSigValues, GREY_LINE, 3, 10, { segment: slopeColored }),
  ];
  const plugin = {
    id: "macdPanel",
    afterDraw(chart: any) {
      const { ctx, chartArea: ca, scales } = chart;
      const x = scales.x, y = scales.y;
      ctx.save();
      macdWaveTexts.forEach((t, i) => {
        drawText(ctx, t, x.getPixelForValue(macdWaveTimes[i]), y.getPixelForValue(macdWaveValues[i]), macdWaveIsBlue[i] ? "#2020c4" : "#999999", `bold 15px ${FONT}`, "center", "middle");
      });
      ctx.restore();
      drawTag(ctx, ca.right + 1, y.getPixelForValue(-0.972), "-0.972", "#33dd33", "#111111");
    },
  };
  return { type: "bar", data: { datasets }, options: baseOptions(-9.258, 8.806), plugins: [plugin] };
}

/* ================= SIGNAL STRIP + TIME AXIS ================= */
function stripConfig(): any {
  const datasets: any[] = [
    {
      type: "bar",
      data: signalBars.map((i) => ({ x: barTimes[i], y: [0, 1] })),
      backgroundColor: "#f4a21c",
      barThickness: 2,
      grouped: false,
      order: 10,
    },
  ];
  const opts: any = baseOptions(-0.333, 1.667);
  opts.scales.x = {
    type: "linear",
    position: "bottom",
    min: axisStartMinute,
    max: axisEndMinute,
    display: true,
    offset: false,
    afterBuildTicks: (s: any) => {
      s.ticks = timeTickMinutes.map((v) => ({ value: v }));
    },
    afterFit: (s: any) => {
      s.height = 54;
      s.paddingLeft = 0;
      s.paddingRight = 0;
    },
    ticks: { callback: (v: any) => fmtTime(Number(v)), color: "#000", font: { family: FONT, size: 13 }, padding: 2, maxRotation: 0, autoSkip: false },
    grid: { drawOnChartArea: false, drawTicks: true, tickLength: 5, color: "#000", offset: false },
    border: { display: true, color: "#000" },
  };
  const plugin = {
    id: "stripPanel",
    afterDraw(chart: any) {
      const { ctx, chartArea: ca, scales } = chart;
      drawText(ctx, "\u00a9 2017 NinjaTrader, LLC", 1, 15, "#111", `11px ${FONT}`);
      drawTag(ctx, ca.right + 1, scales.y.getPixelForValue(0), "0", "#f4a21c", "#111111");
    },
  };
  return { type: "bar", data: { datasets }, options: opts, plugins: [plugin] };
}

export default function App() {
  const priceRef = useRef<HTMLCanvasElement>(null);
  const volRef = useRef<HTMLCanvasElement>(null);
  const stochRef = useRef<HTMLCanvasElement>(null);
  const macdRef = useRef<HTMLCanvasElement>(null);
  const stripRef = useRef<HTMLCanvasElement>(null);

  useEffect(() => {
    const charts: Chart[] = [];
    if (priceRef.current) charts.push(new Chart(priceRef.current, priceConfig()));
    if (volRef.current) charts.push(new Chart(volRef.current, volumeConfig()));
    if (stochRef.current) charts.push(new Chart(stochRef.current, stochConfig()));
    if (macdRef.current) charts.push(new Chart(macdRef.current, macdConfig()));
    if (stripRef.current) charts.push(new Chart(stripRef.current, stripConfig()));
    return () => charts.forEach((c) => c.destroy());
  }, []);

  const line = (left: number, top: number, width: number, height: number) => (
    <div style={{ position: "absolute", left, top, width, height, background: "#000" }} />
  );

  return (
    <div style={{ position: "absolute", left: 0, top: 0, width: 1005, height: 952, background: "#fff", fontFamily: FONT, overflow: "hidden" }}>
      <div style={{ position: "absolute", left: 0, top: 3, width: 998, textAlign: "center", fontSize: 16, color: "#111", whiteSpace: "pre" }}>
        {"ES 03-17 (2 Min)  1/10/2017"}
      </div>
      <canvas ref={priceRef} width={1002} height={662} style={{ position: "absolute", left: 2, top: 28 }} />
      <canvas ref={volRef} width={1002} height={64} style={{ position: "absolute", left: 2, top: 690 }} />
      <canvas ref={stochRef} width={1002} height={68} style={{ position: "absolute", left: 2, top: 754 }} />
      <canvas ref={macdRef} width={1002} height={56} style={{ position: "absolute", left: 2, top: 822 }} />
      <canvas ref={stripRef} width={1002} height={72} style={{ position: "absolute", left: 2, top: 878 }} />
      <div style={{ position: "absolute", left: 1, top: 27, width: 1004, height: 924, border: "1px solid #000", boxSizing: "border-box" }} />
      {line(1, 690, 921, 1)}
      {line(1, 754, 921, 1)}
      {line(1, 822, 921, 1)}
      {line(1, 878, 921, 1)}
      {line(921, 27, 1, 869)}
    </div>
  );
}
